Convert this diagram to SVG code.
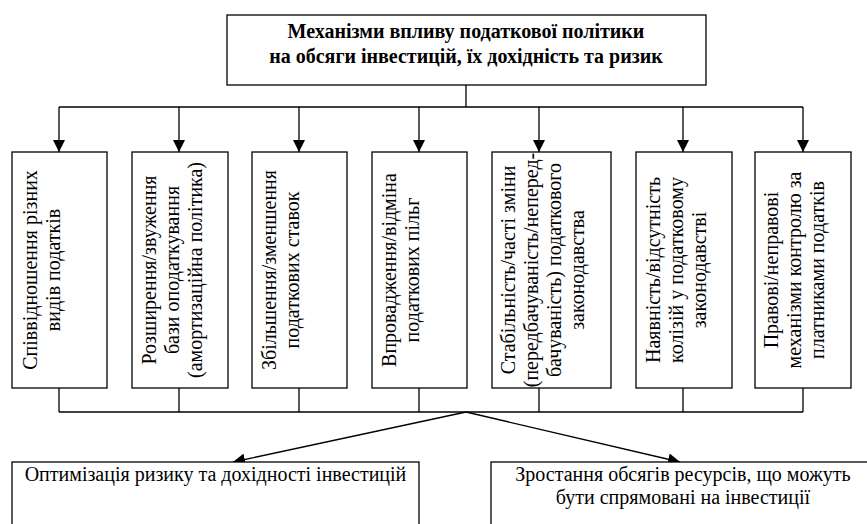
<svg xmlns="http://www.w3.org/2000/svg" width="867" height="524" viewBox="0 0 867 524">
<defs>
<marker id="ah" markerUnits="userSpaceOnUse" markerWidth="12" markerHeight="12" viewBox="0 0 12 12" refX="12" refY="6" orient="auto">
<path d="M0,0 L12,6 L0,12 Z" fill="#000"/>
</marker>
<style>
.box{fill:#fff;stroke:#000;stroke-width:1.3}
.ln{fill:none;stroke:#000;stroke-width:1.3}
.t{font-family:"Liberation Serif","Times New Roman",serif;font-size:20px;fill:#000}
.b{font-weight:bold}
</style>
</defs>
<g id="connectors">
<line class="ln" x1="466" y1="85" x2="466" y2="107"/>
<line class="ln" x1="59" y1="107" x2="803" y2="107"/>
<line class="ln" x1="59" y1="107" x2="59" y2="152" marker-end="url(#ah)"/>
<line class="ln" x1="179" y1="107" x2="179" y2="152" marker-end="url(#ah)"/>
<line class="ln" x1="299" y1="107" x2="299" y2="152" marker-end="url(#ah)"/>
<line class="ln" x1="419" y1="107" x2="419" y2="152" marker-end="url(#ah)"/>
<line class="ln" x1="539" y1="107" x2="539" y2="152" marker-end="url(#ah)"/>
<line class="ln" x1="683" y1="107" x2="683" y2="152" marker-end="url(#ah)"/>
<line class="ln" x1="803" y1="107" x2="803" y2="152" marker-end="url(#ah)"/>
<line class="ln" x1="59" y1="388" x2="59" y2="412"/>
<line class="ln" x1="179" y1="388" x2="179" y2="412"/>
<line class="ln" x1="299" y1="388" x2="299" y2="412"/>
<line class="ln" x1="419" y1="388" x2="419" y2="412"/>
<line class="ln" x1="539" y1="388" x2="539" y2="412"/>
<line class="ln" x1="683" y1="388" x2="683" y2="412"/>
<line class="ln" x1="803" y1="388" x2="803" y2="412"/>
<line class="ln" x1="59" y1="412" x2="803" y2="412"/>
<line class="ln" x1="466" y1="412" x2="233" y2="462" marker-end="url(#ah)"/>
<line class="ln" x1="466" y1="412" x2="680" y2="462" marker-end="url(#ah)"/>
</g>
<g id="top">
<rect class="box" x="227" y="15" width="479" height="70"/>
<text class="t b" text-anchor="middle"><tspan x="466" y="38">Механізми впливу податкової політики</tspan><tspan x="466" y="63">на обсяги інвестицій, їх дохідність та ризик</tspan></text>
</g>
<g id="n1">
<rect class="box" x="12" y="152" width="95" height="236"/>
<text class="t" text-anchor="middle" transform="translate(37,270) rotate(-90)"><tspan x="0" y="0">Співвідношення різних</tspan><tspan x="0" dy="23">видів податків</tspan></text>
</g>
<g id="n2">
<rect class="box" x="132" y="152" width="96" height="236"/>
<text class="t" text-anchor="middle" transform="translate(156,270) rotate(-90)"><tspan x="0" y="0">Розширення/звуження</tspan><tspan x="0" dy="23">бази оподаткування</tspan><tspan x="0" dy="23">(амортизаційна політика)</tspan></text>
</g>
<g id="n3">
<rect class="box" x="252" y="152" width="95" height="236"/>
<text class="t" text-anchor="middle" transform="translate(276,270) rotate(-90)"><tspan x="0" y="0">Збільшення/зменшення</tspan><tspan x="0" dy="23">податкових ставок</tspan></text>
</g>
<g id="n4">
<rect class="box" x="372" y="152" width="95" height="236"/>
<text class="t" text-anchor="middle" transform="translate(396,270) rotate(-90)"><tspan x="0" y="0">Впровадження/відміна</tspan><tspan x="0" dy="23">податкових пільг</tspan></text>
</g>
<g id="n5">
<rect class="box" x="492" y="152" width="119" height="236"/>
<text class="t" text-anchor="middle" transform="translate(515,270) rotate(-90)"><tspan x="0" y="0">Стабільність/часті зміни</tspan><tspan x="0" dy="23">(передбачуваність/неперед-</tspan><tspan x="0" dy="23">бачуваність) податкового</tspan><tspan x="0" dy="23">законодавства</tspan></text>
</g>
<g id="n6">
<rect class="box" x="636" y="152" width="96" height="236"/>
<text class="t" text-anchor="middle" transform="translate(660,270) rotate(-90)"><tspan x="0" y="0">Наявність/відсутність</tspan><tspan x="0" dy="23">колізій у податковому</tspan><tspan x="0" dy="23">законодавстві</tspan></text>
</g>
<g id="n7">
<rect class="box" x="755" y="152" width="96" height="236"/>
<text class="t" text-anchor="middle" transform="translate(778,270) rotate(-90)"><tspan x="0" y="0">Правові/неправові</tspan><tspan x="0" dy="23">механізми контролю за</tspan><tspan x="0" dy="23">платниками податків</tspan></text>
</g>
<g id="out1">
<rect class="box" x="12" y="462" width="407" height="80"/>
<text class="t" text-anchor="middle" x="215.5" y="481">Оптимізація ризику та дохідності інвестицій</text>
</g>
<g id="out2">
<rect class="box" x="491" y="462" width="390" height="80"/>
<text class="t" text-anchor="middle"><tspan x="683" y="481">Зростання обсягів ресурсів, що можуть</tspan><tspan x="683" y="504">бути спрямовані на інвестиції</tspan></text>
</g>
</svg>
